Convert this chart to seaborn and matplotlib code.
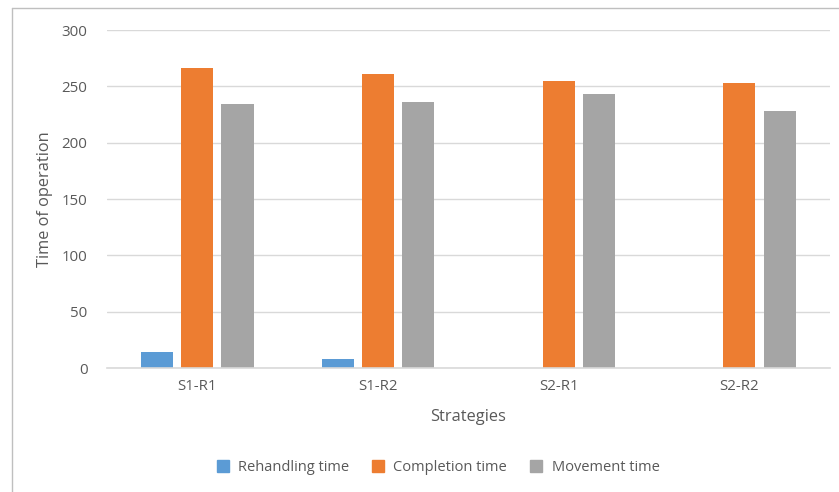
import pandas as pd
import numpy as np
import matplotlib
matplotlib.use("Agg")
import matplotlib.pyplot as plt
import seaborn as sns
from matplotlib.lines import Line2D

# data
strategies = ["S1-R1", "S1-R2", "S2-R1", "S2-R2"]
rehandling = [14, 8, 0, 0]
completion = [266, 261, 255, 253]
movement = [234, 236, 243, 228]
series_names = ["Rehandling time", "Completion time", "Movement time"]
colors = ["#5B9BD5", "#ED7D31", "#A5A5A5"]

df = pd.DataFrame({
    "Strategies": strategies * 3,
    "value": rehandling + completion + movement,
    "series": np.repeat(series_names, len(strategies)),
})

sns.set_theme(style="white")
plt.rcParams["font.family"] = ["Open Sans", "DejaVu Sans"]

fig = plt.figure(figsize=(8.39, 4.92), dpi=100)
ax = fig.add_axes([0.1275, 0.252, 0.8615, 0.687])

sns.barplot(data=df, x="Strategies", y="value", hue="series",
            palette=colors, width=0.667, gap=0.2, ax=ax, legend=False,
            saturation=1, edgecolor="none")

ax.set_xlim(-0.5, 3.5)
ax.set_ylim(0, 300)
ax.set_yticks(range(0, 301, 50))
ax.yaxis.grid(True, color="#D9D9D9", linewidth=1)
ax.set_axisbelow(True)
for s in ["top", "right", "left"]:
    ax.spines[s].set_visible(False)
ax.spines["bottom"].set_color("#D9D9D9")
ax.spines["bottom"].set_linewidth(1.2)
ax.tick_params(axis="both", length=0, labelsize=10.8, colors="#595959", pad=8)
ax.tick_params(axis="y", pad=14)

ax.set_xlabel("Strategies", fontsize=11.8, color="#595959", labelpad=11)
ax.set_ylabel("Time of operation", fontsize=11.8, color="#595959", labelpad=6)

handles = [Line2D([0], [0], marker="s", linestyle="", markersize=8,
                  markerfacecolor=c, markeredgecolor=c) for c in colors]
fig.legend(handles, series_names, loc="center", bbox_to_anchor=(0.517, 0.05),
           ncol=3, frameon=False, fontsize=10.5, handletextpad=0.05,
           columnspacing=1.0, labelcolor="#595959")

# chart area border (top and left edges visible in the crop)
fig.add_artist(Line2D([12 / 839, 12 / 839], [0, 1 - 8 / 492],
                      transform=fig.transFigure, color="#BFBFBF", linewidth=1))
fig.add_artist(Line2D([12 / 839, 1], [1 - 8 / 492, 1 - 8 / 492],
                      transform=fig.transFigure, color="#BFBFBF", linewidth=1))

fig.savefig("out.png", dpi=100)
